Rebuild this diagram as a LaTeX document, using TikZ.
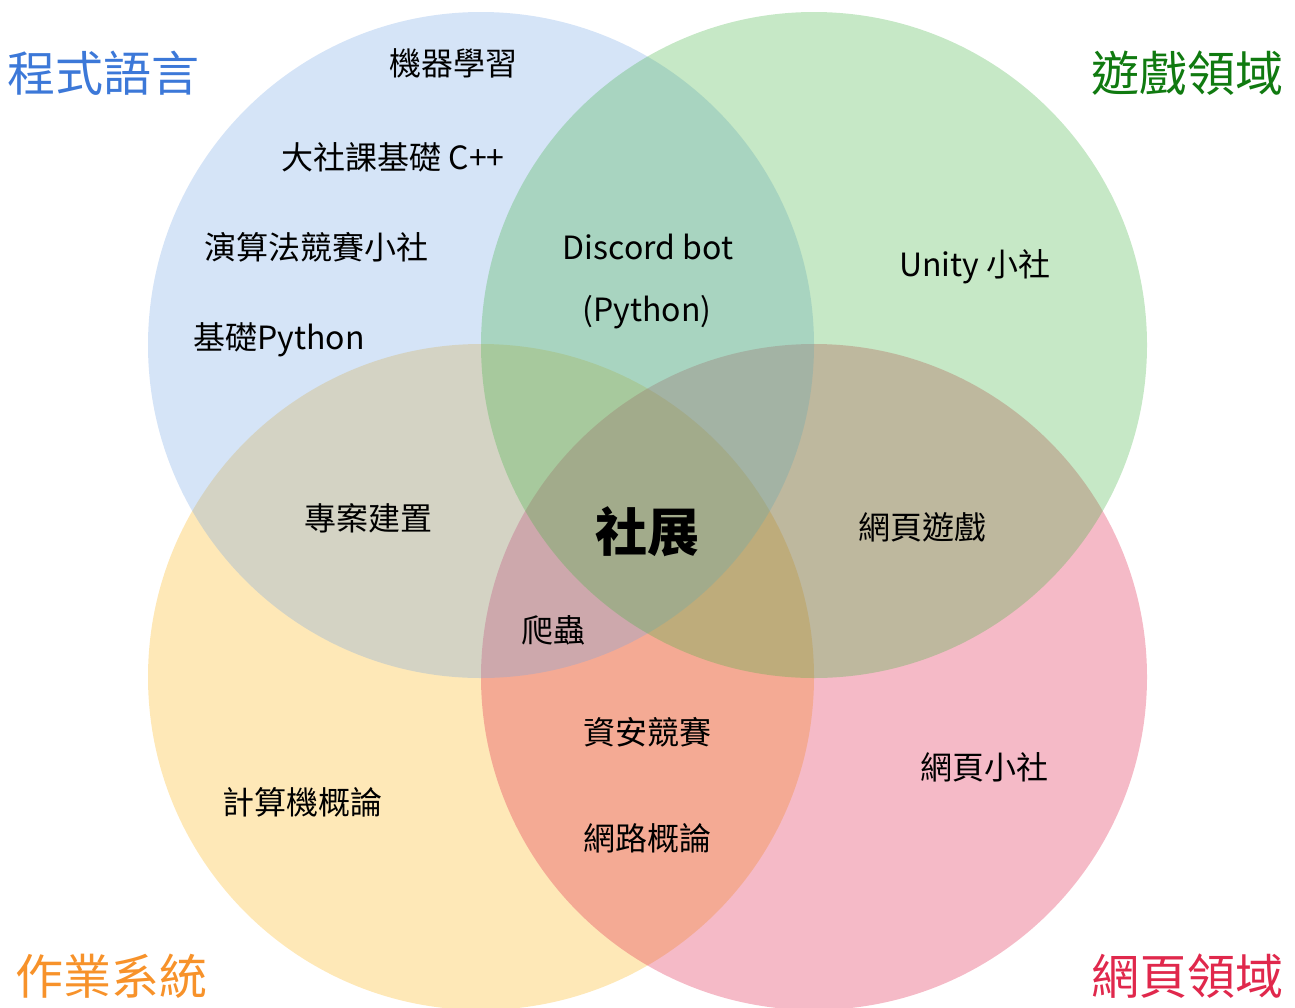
\documentclass[tikz,border=0pt]{standalone}
\usepackage{fontspec}
\setmainfont{Noto Sans CJK TC}
\definecolor{cblue}{RGB}{115,165,228}
\definecolor{cgreen}{RGB}{65,178,65}
\definecolor{cyellow}{RGB}{252,178,18}
\definecolor{cpink}{RGB}{222,28,68}
\definecolor{tblue}{RGB}{60,120,216}
\definecolor{tgreen}{RGB}{16,122,16}
\definecolor{torange}{RGB}{247,146,42}
\definecolor{tred}{RGB}{224,40,76}
\begin{document}
\begin{tikzpicture}[x=1pt,y=-1pt,
  lbl/.style={inner sep=0pt,font=\fontsize{32}{38}\selectfont},
  ttl/.style={inner sep=0pt,font=\fontsize{48}{56}\selectfont},
  disc/.style={fill opacity=0.3}]
\useasboundingbox (0,0) rectangle (1295,1007);
\fill[disc,cyellow] (481,677) circle (333);
\fill[disc,cpink] (814,677) circle (333);
\fill[disc,cblue] (481,345) circle (333);
\fill[disc,cgreen] (814,345) circle (333);
\node[ttl,text=tblue] (t1) at (103,73) {程式語言};
\node[ttl,text=tgreen] (t2) at (1187,73) {遊戲領域};
\node[ttl,text=torange] (t3) at (111,976) {作業系統};
\node[ttl,text=tred] (t4) at (1187,976) {網頁領域};
\node[lbl] (a1) at (453,63) {機器學習};
\node[lbl] (a2) at (393,157) {大社課基礎 C++};
\node[lbl] (a3) at (316,247) {演算法競賽小社};
\node[lbl] (a4) at (279,340) {基礎Python};
\node[lbl] (b1) at (648,247) {Discord bot};
\node[lbl] (b2) at (647,312) {(Python)};
\node[lbl] (c1) at (975,267) {Unity 小社};
\node[inner sep=0pt,font=\fontsize{52}{60}\selectfont\bfseries] (ctr) at (647,532) {社展};
\node[lbl] (d1) at (368,518) {專案建置};
\node[lbl] (d2) at (922,527) {網頁遊戲};
\node[lbl] (d3) at (553,630) {爬蟲};
\node[lbl] (e1) at (647,732) {資安競賽};
\node[lbl] (e2) at (647,838) {網路概論};
\node[lbl] (f1) at (302,802) {計算機概論};
\node[lbl] (g1) at (984,767) {網頁小社};
\end{tikzpicture}
\end{document}
